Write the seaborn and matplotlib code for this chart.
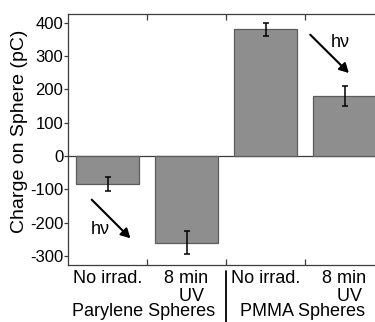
import matplotlib
matplotlib.use("Agg")
import matplotlib.pyplot as plt
import seaborn as sns
import pandas as pd

# data
conditions = ["para_none", "para_uv", "pmma_none", "pmma_uv"]
tick_labels = ["No irrad.", "8 min\n  UV", "No irrad.", "8 min\n  UV"]
charge = [-85, -260, 380, 181]
charge_err = [21, 35, 20, 30]
groups = ["Parylene Spheres", "PMMA Spheres"]
group_pos = [0.46, 2.47]
yticks = [-300, -200, -100, 0, 100, 200, 300, 400]

sns.set_style("white")
plt.rcParams["font.family"] = ["Liberation Sans", "DejaVu Sans"]
plt.rcParams["axes.unicode_minus"] = False
plt.rcParams["text.color"] = "black"
plt.rcParams["axes.labelcolor"] = "black"
plt.rcParams["xtick.color"] = "black"
plt.rcParams["ytick.color"] = "black"

df = pd.DataFrame({"cond": conditions, "charge": charge})

fig = plt.figure(figsize=(3.75, 3.22), dpi=100)
ax = fig.add_axes([68 / 375, 57 / 322, 316 / 375, 251 / 322])

sns.barplot(data=df, x="cond", y="charge", order=conditions, color="#8e8e8e",
            saturation=1, width=0.8, edgecolor="#5c5c5c", linewidth=0.9,
            errorbar=None, ax=ax, zorder=2)
ax.errorbar(range(len(charge)), charge, yerr=charge_err, fmt="none",
            ecolor="black", elinewidth=1.1, capsize=2, capthick=1.1, zorder=3)
ax.axhline(0, color="#3c3c3c", lw=0.9, zorder=1)

ax.set_xlim(-0.5, 3.5)
ax.set_ylim(-327, 426)
ax.set_yticks(yticks)
ax.set_yticklabels([str(v) for v in yticks], fontsize=12)
ax.tick_params(axis="y", direction="out", length=3, width=0.9, pad=0.5,
               color="#3c3c3c", left=True)

# ticks between categories, labels at category centres
ax.set_xticks([0.5, 1.5, 2.5])
ax.set_xticklabels([])
ax.set_xticks(range(len(conditions)), minor=True)
ax.set_xticklabels(tick_labels, minor=True, fontsize=13, linespacing=1.05)
ax.tick_params(axis="x", which="major", direction="in", length=4, width=0.9,
               top=True, bottom=True, color="#3c3c3c")
ax.tick_params(axis="x", which="minor", length=0, pad=3.5)

for s in ax.spines.values():
    s.set_color("#3c3c3c")
    s.set_linewidth(0.9)

ax.set_xlabel("")
ax.set_ylabel("Charge on Sphere (pC)", fontsize=14)
ax.yaxis.set_label_coords(-0.125, 0.532)

# arrows with h-nu
head = "-|>,head_length=0.55,head_width=0.3"
ax.annotate("", xy=(0.29, -247), xytext=(-0.2, -131),
            arrowprops=dict(arrowstyle=head, color="black", lw=1.5,
                            shrinkA=0, shrinkB=0))
ax.text(-0.095, -219, "hν", fontsize=13, ha="center", va="center")
ax.annotate("", xy=(3.055, 249), xytext=(2.566, 364),
            arrowprops=dict(arrowstyle=head, color="black", lw=1.5,
                            shrinkA=0, shrinkB=0))
ax.text(2.94, 340, "hν", fontsize=13, ha="center", va="center")

# group labels and divider under the axis
trans = ax.get_xaxis_transform()
for g, xp in zip(groups, group_pos):
    ax.text(xp, -51 / 251, g, transform=trans, fontsize=13,
            ha="center", va="baseline", clip_on=False)
ax.plot([1.5, 1.5], [-6 / 251, -60 / 251], transform=trans, color="black",
        lw=1.3, clip_on=False)

fig.savefig("out.png", dpi=100)
